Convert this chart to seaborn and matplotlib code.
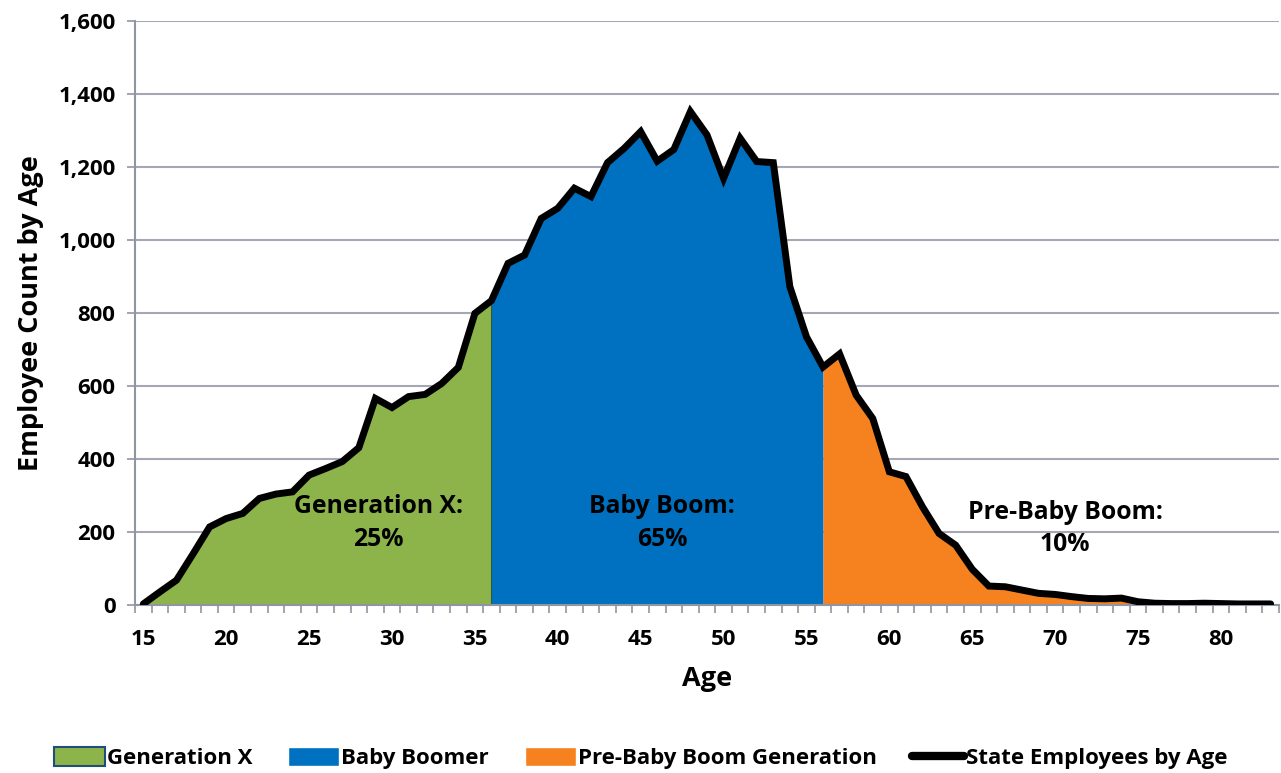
import numpy as np
import pandas as pd
import matplotlib
matplotlib.use("Agg")
import matplotlib.pyplot as plt
import seaborn as sns
from matplotlib.patches import Patch
from matplotlib.lines import Line2D
from matplotlib.ticker import FuncFormatter, MultipleLocator

# dados
ages = list(range(15, 84))
counts = [3, 36, 68, 140, 214, 237, 251, 292, 304, 310,
          356, 374, 393, 431, 566, 541, 571, 577, 607, 651,
          799, 834, 936, 959, 1059, 1087, 1142, 1119, 1212, 1251,
          1297, 1216, 1248, 1352, 1288, 1169, 1279, 1215, 1212, 872,
          735, 652, 688, 575, 511, 365, 352, 269, 196, 164,
          98, 52, 50, 41, 32, 29, 23, 18, 17, 19,
          9, 5, 4, 4, 5, 4, 3, 3, 3]

groups = ["Generation X", "Baby Boomer", "Pre-Baby Boom Generation"]
group_bounds = [(15, 36), (36, 56), (56, 83)]
group_colors = ["#8DB44B", "#0070C0", "#F5821F"]
annot_text = ["Generation X:\n25%", "Baby Boom:\n65%", "Pre-Baby Boom:\n10%"]
annot_pos = [(29.2, 225), (46.3, 225), (70.6, 210)]

df = pd.DataFrame({"Age": ages, "Count": counts})

sns.set_theme(style="white")
plt.rcParams["font.family"] = ["Open Sans", "DejaVu Sans"]
plt.rcParams["font.weight"] = "bold"
for k in ["text.color", "axes.labelcolor", "xtick.labelcolor", "ytick.labelcolor"]:
    plt.rcParams[k] = "black"

fig = plt.figure(figsize=(12.81, 7.73), dpi=100)
ax = fig.add_axes([0.1054, 0.2173, 0.8930, 0.7555])

for (lo, hi), col in zip(group_bounds, group_colors):
    sub = df[(df["Age"] >= lo) & (df["Age"] <= hi)]
    ax.fill_between(sub["Age"], 0, sub["Count"], color=col, lw=0, zorder=2)
# borda fina do Gen X
ax.plot([36, 36], [0, df.loc[df["Age"] == 36, "Count"].iloc[0]], color="#2E5A3A", lw=0.8, zorder=2)

sns.lineplot(data=df, x="Age", y="Count", color="black", lw=5, ax=ax, zorder=3,
             solid_joinstyle="miter", solid_capstyle="round")

for txt, (x, y) in zip(annot_text, annot_pos):
    ax.text(x, y, txt, ha="center", va="center", fontsize=17.8, fontweight="bold",
            linespacing=1.4, zorder=4)

ax.set_xlim(14.5, 83.5)
ax.set_ylim(0, 1600)
ax.yaxis.set_major_locator(MultipleLocator(200))
ax.yaxis.set_major_formatter(FuncFormatter(lambda v, p: f"{int(v):,}"))
ax.set_xticks(range(15, 84, 5))
ax.set_xticks(np.arange(14.5, 84, 1), minor=True)
ax.grid(axis="y", color="#A5A8B4", lw=1.5, zorder=0)
ax.set_axisbelow(True)

for s in ["top", "right"]:
    ax.spines[s].set_visible(False)
for s in ["left", "bottom"]:
    ax.spines[s].set_color("#9095A3")
    ax.spines[s].set_linewidth(1.5)

ax.tick_params(axis="y", which="major", left=True, length=6, width=1.2, color="#9095A3",
               labelsize=16, pad=8)
ax.tick_params(axis="x", which="major", bottom=False, labelsize=16, pad=11)
ax.tick_params(axis="x", which="minor", bottom=True, length=6, width=1.2, color="#9095A3")
for lab in ax.get_xticklabels() + ax.get_yticklabels():
    lab.set_fontweight("bold")

ax.set_xlabel("Age", fontsize=19.5, fontweight="bold", labelpad=12)
ax.set_ylabel("Employee Count by Age", fontsize=19.5, fontweight="bold", labelpad=10)

handles = [Patch(facecolor=group_colors[0], edgecolor="#1F4E79", lw=1.5, label=groups[0]),
           Patch(facecolor=group_colors[1], label=groups[1]),
           Patch(facecolor=group_colors[2], label=groups[2]),
           Line2D([0], [0], color="black", lw=6, label="State Employees by Age")]
fig.legend(handles=handles, loc="center", bbox_to_anchor=(0.5, 0.019), ncol=4, frameon=False,
           prop={"size": 16, "weight": "bold"}, handlelength=2.3, handleheight=0.9,
           handletextpad=0.1, columnspacing=1.6)

fig.savefig("out.png", dpi=100)
